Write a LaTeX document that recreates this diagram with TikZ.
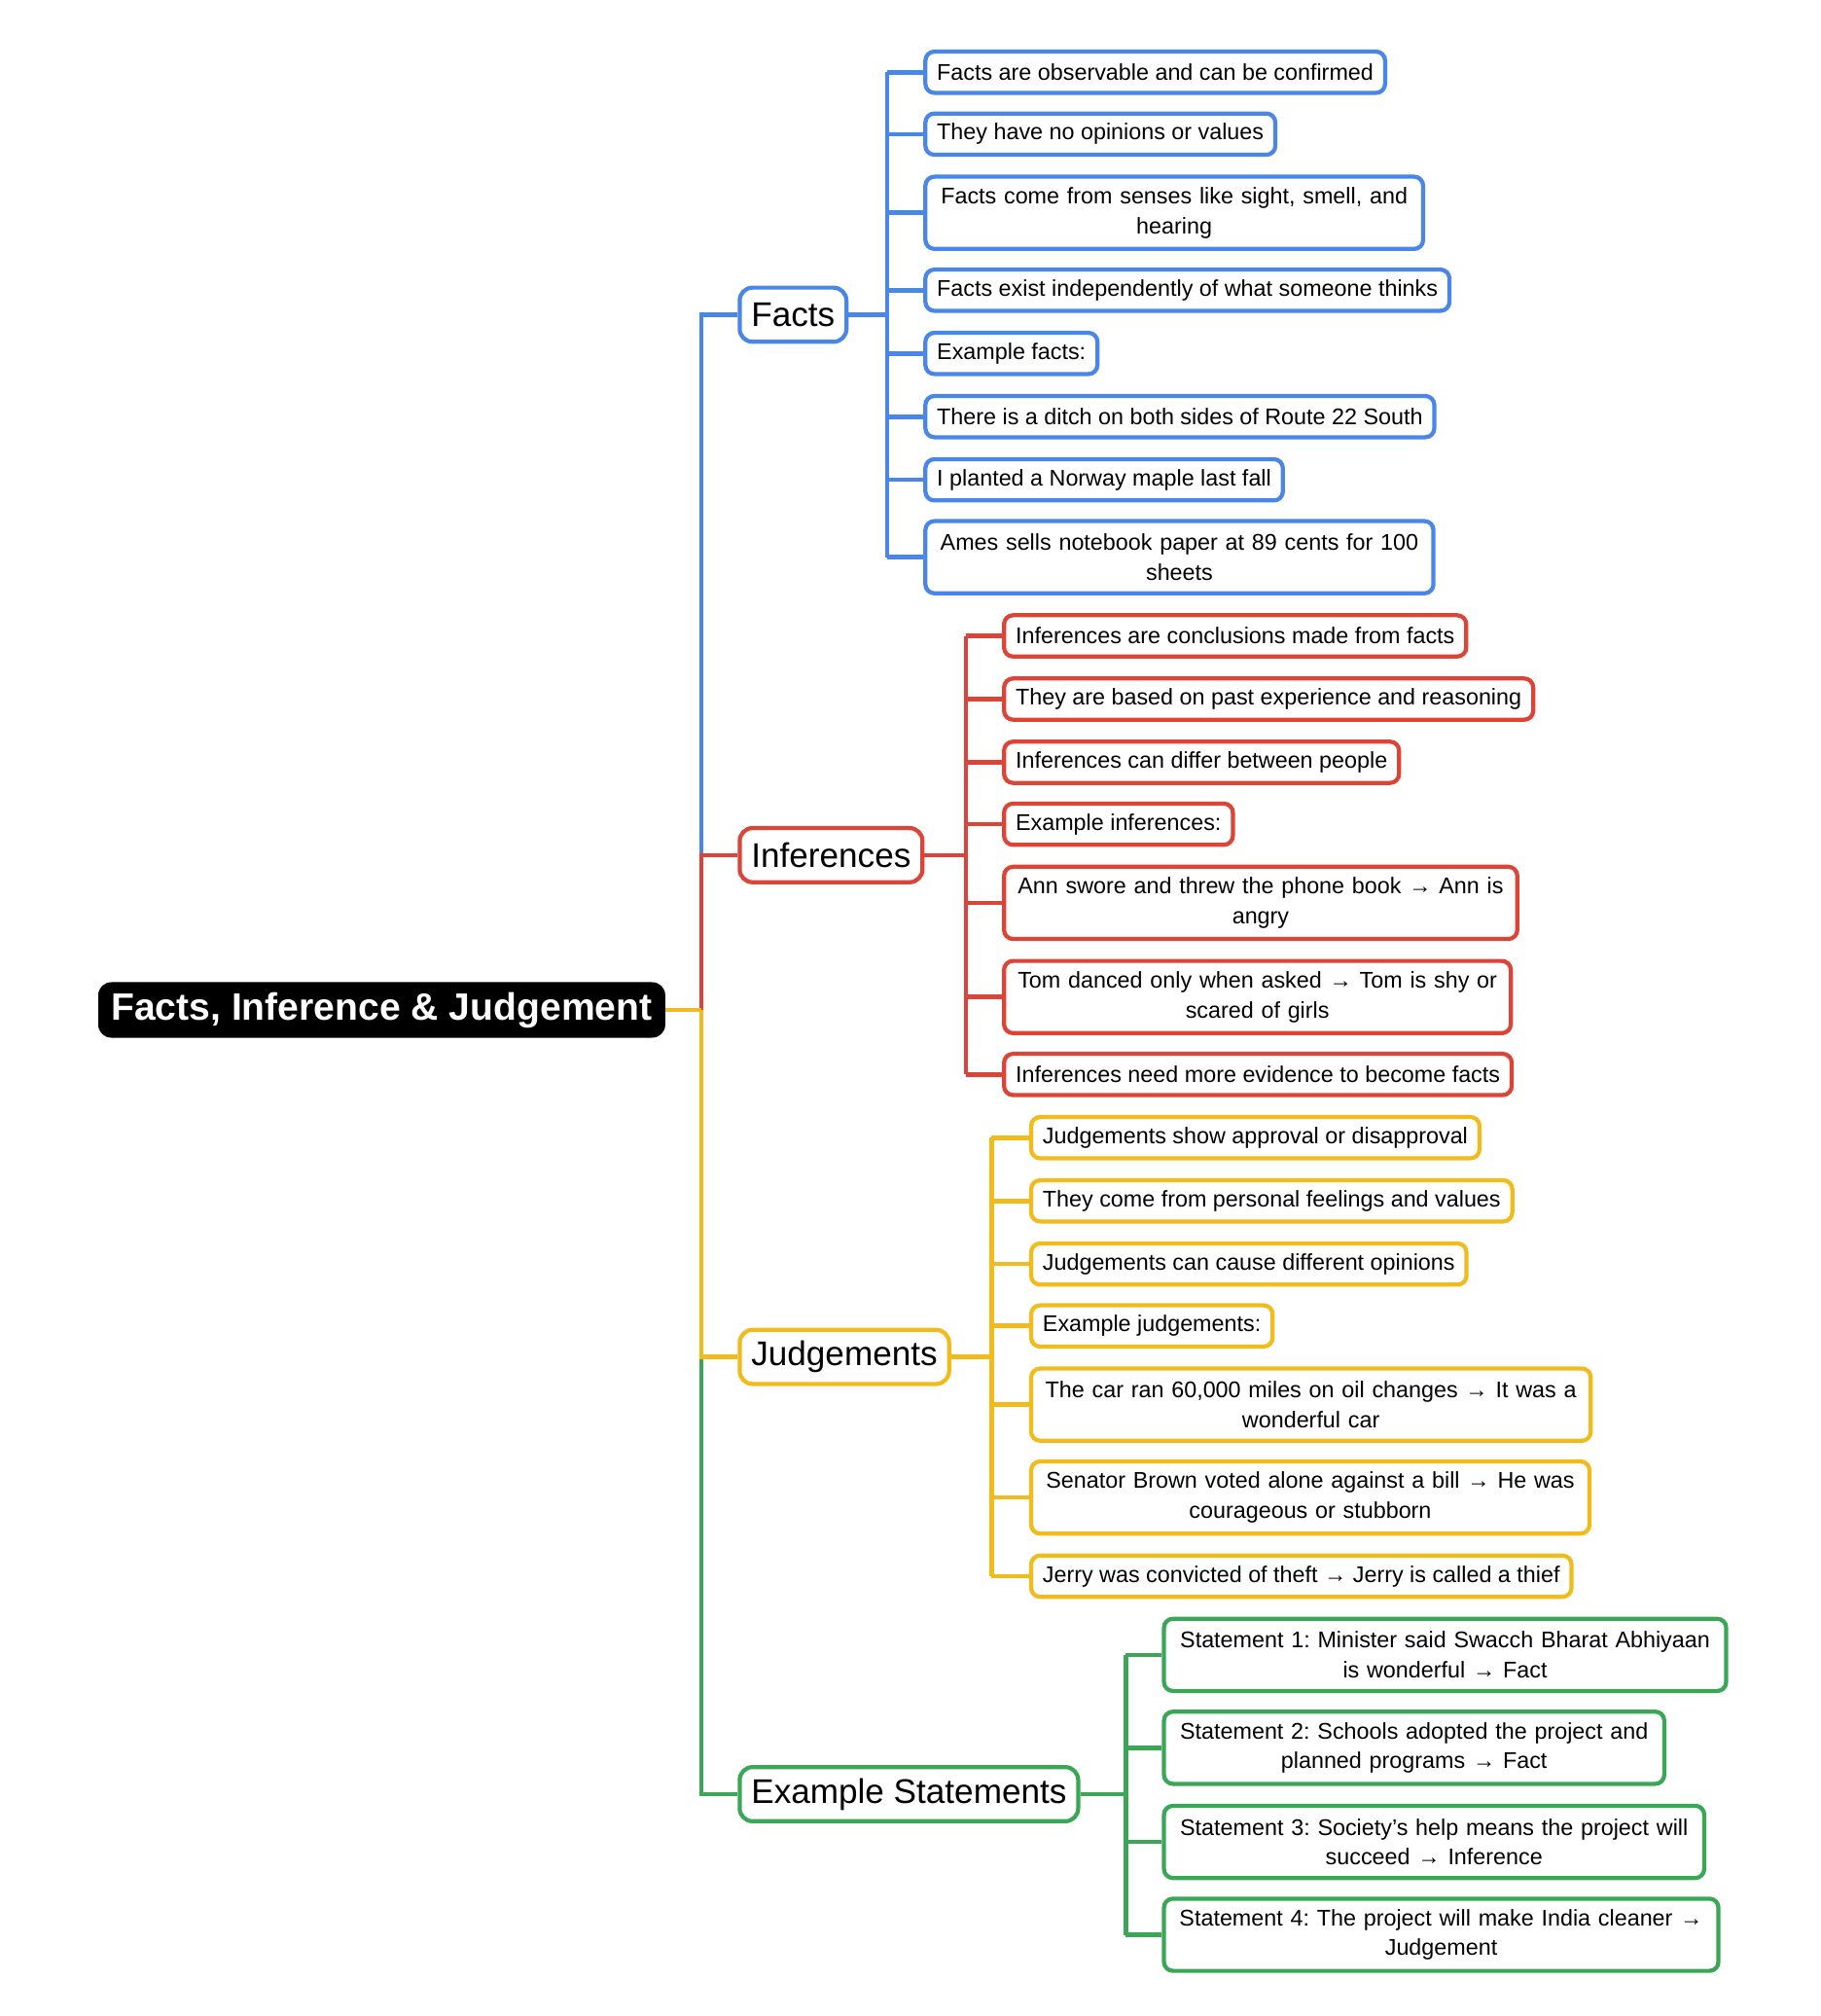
\documentclass[tikz,border=0pt]{standalone}
\usepackage{fontspec}
\setmainfont{Liberation Sans}
\frenchspacing
\begin{document}
\definecolor{cB}{HTML}{4A86E8}
\definecolor{cR}{HTML}{DB4437}
\definecolor{cY}{HTML}{F1BB1B}
\definecolor{cG}{HTML}{3AA757}
\begin{tikzpicture}[x=1pt,y=-1pt,
 leaf/.style={draw=#1,line width=3.2pt,rounded corners=7pt,fill=white,anchor=west,inner xsep=9pt,inner ysep=4pt,minimum height=32pt,font=\fontsize{17.6}{23}\selectfont,align=center},
 two/.style={minimum height=56pt},
 cat/.style={draw=#1,line width=3.2pt,rounded corners=10pt,fill=white,anchor=west,inner xsep=9pt,minimum height=42pt,font=\fontsize{26.5}{30}\selectfont},
 ln/.style={draw=#1,line width=3.5pt}]
\useasboundingbox (0,0) rectangle (1412,1563);
\node[fill=black,text=white,rounded corners=10pt,minimum height=43pt,inner xsep=10pt,anchor=west,font=\fontsize{29.5}{32}\selectfont\bfseries] (root) at (76,783) {Facts, Inference \& Judgement};
\coordinate (trunk) at (544,783);
% categories
\node[cat=cB] (facts) at (572,244) {Facts};
\node[cat=cR] (inf) at (572,663) {Inferences};
\node[cat=cY] (jud) at (572,1052) {Judgements};
\node[cat=cG] (ex) at (572,1391) {Example Statements};
\draw[ln=cB] (trunk |- inf.west) |- (facts.west);
\draw[ln=cR] (trunk) |- (inf.west);
\draw[ln=cG] (trunk |- jud.west) |- (ex.west);
\draw[ln=cY] (trunk) |- (jud.west);
\draw[ln=cY] (root.east) -- (trunk);
% facts leaves
\node[leaf=cB] (f1) at (716,56) {Facts are observable and can be confirmed};
\node[leaf=cB] (f2) at (716,104) {They have no opinions or values};
\node[leaf=cB,two,text width=368pt] (f3) at (716,165) {Facts come from senses like sight, smell, and\\hearing};
\node[leaf=cB] (f4) at (716,225) {Facts exist independently of what someone thinks};
\node[leaf=cB] (f5) at (716,274) {Example facts:};
\node[leaf=cB] (f6) at (716,323) {There is a ditch on both sides of Route 22 South};
\node[leaf=cB] (f7) at (716,372) {I planted a Norway maple last fall};
\node[leaf=cB,two,text width=376pt] (f8) at (716,432) {Ames sells notebook paper at 89 cents for 100\\sheets};
\coordinate (fb) at (688,244);
\draw[ln=cB] (facts.east) -- (fb);
\draw[ln=cB] (fb |- f1.west) -- (fb |- f8.west);
\foreach \n in {f1,f2,f3,f4,f5,f6,f7,f8} \draw[ln=cB] (fb |- \n.west) -- (\n.west);
% inferences
\node[leaf=cR] (i1) at (777,493) {Inferences are conclusions made from facts};
\node[leaf=cR] (i2) at (777,542) {They are based on past experience and reasoning};
\node[leaf=cR] (i3) at (777,591) {Inferences can differ between people};
\node[leaf=cR] (i4) at (777,639) {Example inferences:};
\node[leaf=cR,two,text width=380pt] (i5) at (777,700) {Ann swore and threw the phone book → Ann is\\angry};
\node[leaf=cR,two,text width=375pt] (i6) at (777,773) {Tom danced only when asked → Tom is shy or\\scared of girls};
\node[leaf=cR] (i7) at (777,833) {Inferences need more evidence to become facts};
\coordinate (ib) at (749,663);
\draw[ln=cR] (inf.east) -- (ib);
\draw[ln=cR] (ib |- i1.west) -- (ib |- i7.west);
\foreach \n in {i1,i2,i3,i4,i5,i6,i7} \draw[ln=cR] (ib |- \n.west) -- (\n.west);
% judgements
\node[leaf=cY] (j1) at (798,882) {Judgements show approval or disapproval};
\node[leaf=cY] (j2) at (798,931) {They come from personal feelings and values};
\node[leaf=cY] (j3) at (798,980) {Judgements can cause different opinions};
\node[leaf=cY] (j4) at (798,1028) {Example judgements:};
\node[leaf=cY,two,text width=416pt] (j5) at (798,1089) {The car ran 60,000 miles on oil changes → It was a\\wonderful car};
\node[leaf=cY,two,text width=415pt] (j6) at (798,1161) {Senator Brown voted alone against a bill → He was\\courageous or stubborn};
\node[leaf=cY] (j7) at (798,1222) {Jerry was convicted of theft → Jerry is called a thief};
\coordinate (jb) at (769,1052);
\draw[ln=cY] (jud.east) -- (jb);
\draw[ln=cY] (jb |- j1.west) -- (jb |- j7.west);
\foreach \n in {j1,j2,j3,j4,j5,j6,j7} \draw[ln=cY] (jb |- \n.west) -- (\n.west);
% examples
\node[leaf=cG,two,text width=418pt] (s1) at (901,1283) {Statement 1: Minister said Swacch Bharat Abhiyaan\\is wonderful → Fact};
\node[leaf=cG,two,text width=370pt] (s2) at (901,1355) {Statement 2: Schools adopted the project and\\planned programs → Fact};
\node[leaf=cG,two,text width=401pt] (s3) at (901,1428) {Statement 3: Society's help means the project will\\succeed → Inference};
\node[leaf=cG,two,text width=412pt] (s4) at (901,1500) {Statement 4: The project will make India cleaner →\\Judgement};
\coordinate (sb) at (873,1391);
\draw[ln=cG] (ex.east) -- (sb);
\draw[ln=cG] (sb |- s1.west) -- (sb |- s4.west);
\foreach \n in {s1,s2,s3,s4} \draw[ln=cG] (sb |- \n.west) -- (\n.west);
\end{tikzpicture}
\end{document}
